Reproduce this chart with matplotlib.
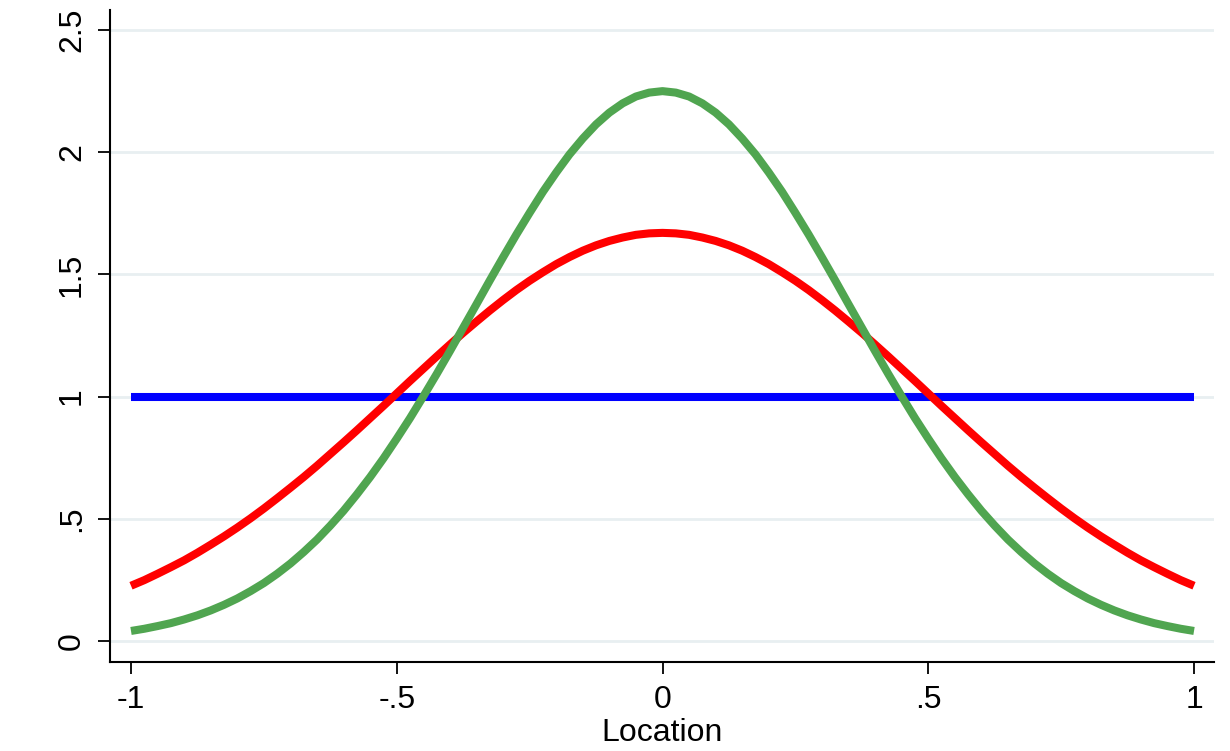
import numpy as np
import matplotlib
matplotlib.use("Agg")
from matplotlib import pyplot as plt

# values (right half, curves are symmetric about 0)
loc_half = [0.0, 0.025, 0.05, 0.075, 0.1, 0.125, 0.15, 0.175, 0.2, 0.225,
            0.25, 0.275, 0.3, 0.325, 0.35, 0.375, 0.4, 0.425, 0.45, 0.475,
            0.5, 0.525, 0.55, 0.575, 0.6, 0.625, 0.65, 0.675, 0.7, 0.725,
            0.75, 0.775, 0.8, 0.825, 0.85, 0.875, 0.9, 0.925, 0.95, 0.975, 1.0]

red_half = [1.670, 1.668, 1.662, 1.651, 1.637, 1.619, 1.597, 1.571, 1.542, 1.509,
            1.474, 1.436, 1.395, 1.352, 1.307, 1.261, 1.213, 1.164, 1.114, 1.064,
            1.013, 0.962, 0.912, 0.862, 0.813, 0.765, 0.717, 0.671, 0.627, 0.584,
            0.542, 0.502, 0.464, 0.428, 0.394, 0.361, 0.330, 0.302, 0.275, 0.249, 0.226]

green_half = [2.250, 2.244, 2.228, 2.200, 2.162, 2.114, 2.056, 1.991, 1.917, 1.838,
              1.752, 1.663, 1.570, 1.475, 1.378, 1.282, 1.186, 1.092, 1.001, 0.912,
              0.828, 0.747, 0.671, 0.600, 0.533, 0.472, 0.415, 0.364, 0.317, 0.275,
              0.237, 0.204, 0.174, 0.148, 0.125, 0.105, 0.088, 0.073, 0.061, 0.050, 0.041]

location = [-v for v in loc_half[:0:-1]] + loc_half
red_vals = red_half[:0:-1] + red_half
green_vals = green_half[:0:-1] + green_half
blue_vals = [1.0] * len(location)

x_ticks = [-1, -0.5, 0, 0.5, 1]
x_labels = ["-1", "-.5", "0", ".5", "1"]
y_ticks = [0, 0.5, 1, 1.5, 2, 2.5]
y_labels = ["0", ".5", "1", "1.5", "2", "2.5"]

plt.rcParams['font.family'] = ['Liberation Sans', 'DejaVu Sans']

fig = plt.figure(figsize=(12.3, 7.51), dpi=100)
ax = fig.add_axes([110 / 1230, 89 / 751, 1104 / 1230, 652 / 751])

ax.plot(location, blue_vals, color="#0000ff", lw=5.8, solid_capstyle="butt")
ax.plot(location, red_vals, color="#ff0000", lw=5.8, solid_capstyle="butt",
        solid_joinstyle="round")
ax.plot(location, green_vals, color="#50a550", lw=5.8, solid_capstyle="butt",
        solid_joinstyle="round")

ax.set_xlim(-1.0395, 1.0376)
ax.set_ylim(-0.086, 2.582)

ax.set_xticks(x_ticks)
ax.set_xticklabels(x_labels)
ax.set_yticks(y_ticks)
ax.set_yticklabels(y_labels, rotation=90, va="center")

ax.grid(axis="y", color="#e8eff1", lw=2)
ax.set_axisbelow(True)

ax.spines['right'].set_visible(False)
ax.spines['top'].set_visible(False)
ax.spines['left'].set_linewidth(1.5)
ax.spines['bottom'].set_linewidth(1.5)

ax.tick_params(axis='both', direction='out', length=8.5, width=1.3, labelsize=23)
ax.tick_params(axis='x', pad=8)
ax.tick_params(axis='y', pad=8)

ax.set_xlabel("Location", fontsize=23, labelpad=2)

fig.savefig("out.png", dpi=100)
